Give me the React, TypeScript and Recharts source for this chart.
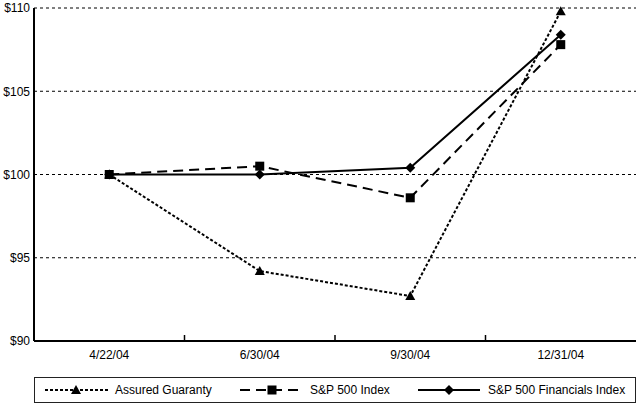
import React from "react"
import { LineChart, Line, XAxis, YAxis, CartesianGrid } from "recharts"

const dates = ["4/22/04", "6/30/04", "9/30/04", "12/31/04"]
const assuredGuaranty = [100, 94.2, 92.7, 109.8]
const sp500 = [100, 100.5, 98.6, 107.8]
const spFinancials = [100, 100.0, 100.4, 108.4]
const yTicks = [90, 95, 100, 105, 110]
const seriesNames = ["Assured Guaranty", "S&P 500 Index", "S&P 500 Financials Index"]

const data = dates.map((date, i) => ({
  date,
  ag: assuredGuaranty[i],
  sp: sp500[i],
  fin: spFinancials[i]
}))

const W = 639
const H = 403
const LEFT = 34
const RIGHT = 3
const PLOT_W = W - LEFT - RIGHT
const HALF_BAND = PLOT_W / dates.length / 2
const FONT = "'Liberation Sans', Arial, Helvetica, sans-serif"

// marker shapes
const Triangle = ({ cx, cy }: any) => {
  if (cx == null || cy == null) return null
  return <path d={`M${cx},${cy - 5}L${cx + 5},${cy + 4}L${cx - 5},${cy + 4}Z`} fill="#000" />
}

const Square = ({ cx, cy }: any) => {
  if (cx == null || cy == null) return null
  return <rect x={cx - 4.5} y={cy - 4.5} width={9} height={9} fill="#000" />
}

const Diamond = ({ cx, cy }: any) => {
  if (cx == null || cy == null) return null
  return <path d={`M${cx},${cy - 5}L${cx + 5},${cy}L${cx},${cy + 5}L${cx - 5},${cy}Z`} fill="#000" />
}

// x tick: label at category center, small tick mark at band boundary
const XTick = ({ x, y, payload, index }: any) => (
  <g>
    <text x={x} y={y + 18} textAnchor="middle" fill="#000" fontSize={12} fontFamily={FONT}>
      {payload.value}
    </text>
    {index < dates.length - 1 && (
      <line x1={x + HALF_BAND} x2={x + HALF_BAND} y1={y} y2={y - 6} stroke="#000" strokeWidth={1.5} />
    )}
  </g>
)

const LegendBox = () => (
  <svg
    width={PLOT_W}
    height={26}
    style={{ position: "absolute", left: LEFT, top: 377, overflow: "visible" }}
  >
    <rect x={0.5} y={0.5} width={PLOT_W - 1} height={25} fill="none" stroke="#222" strokeWidth={1} />
    <g fontFamily={FONT} fontSize={12} fill="#000">
      <line x1={11} x2={74} y1={13} y2={13} stroke="#000" strokeWidth={2} strokeDasharray="3 2" />
      <Triangle cx={42} cy={13} />
      <text x={81} y={17}>{seriesNames[0]}</text>

      <line x1={206} x2={269} y1={13} y2={13} stroke="#000" strokeWidth={2} strokeDasharray="10 6" />
      <Square cx={238} cy={13} />
      <text x={276} y={17}>{seriesNames[1]}</text>

      <line x1={384} x2={446} y1={13} y2={13} stroke="#000" strokeWidth={2} />
      <Diamond cx={415} cy={13} />
      <text x={454} y={17}>{seriesNames[2]}</text>
    </g>
  </svg>
)

export default function App() {
  return (
    <div style={{ position: "absolute", left: 0, top: 0, width: W, height: H, background: "#fff" }}>
      <LineChart width={W} height={H} data={data} margin={{ top: 8, right: RIGHT, bottom: 32, left: 0 }}>
        <CartesianGrid vertical={false} stroke="#000" strokeDasharray="3 3" strokeWidth={1} />
        <XAxis
          dataKey="date"
          height={30}
          padding={{ left: HALF_BAND, right: HALF_BAND }}
          tickSize={0}
          tickMargin={0}
          tickLine={false}
          axisLine={{ stroke: "#000", strokeWidth: 2 }}
          tick={<XTick />}
          interval={0}
        />
        <XAxis
          xAxisId="top"
          dataKey="date"
          orientation="top"
          height={0}
          padding={{ left: HALF_BAND, right: HALF_BAND }}
          tick={false}
          tickLine={false}
          axisLine={{ stroke: "#000", strokeWidth: 2 }}
        />
        <YAxis
          domain={[90, 110]}
          ticks={yTicks}
          width={LEFT}
          tickSize={0}
          tickMargin={4}
          tickLine={false}
          axisLine={{ stroke: "#000", strokeWidth: 2 }}
          tickFormatter={(v: number) => `$${v}`}
          tick={{ fill: "#000", fontSize: 12, fontFamily: FONT }}
        />
        <YAxis
          yAxisId="right"
          orientation="right"
          domain={[90, 110]}
          width={0}
          tick={false}
          tickLine={false}
          axisLine={{ stroke: "#000", strokeWidth: 2 }}
        />
        <Line
          dataKey="ag"
          name={seriesNames[0]}
          type="linear"
          stroke="#000"
          strokeWidth={2}
          strokeDasharray="3 2"
          dot={<Triangle />}
          activeDot={false}
          isAnimationActive={false}
        />
        <Line
          dataKey="sp"
          name={seriesNames[1]}
          type="linear"
          stroke="#000"
          strokeWidth={2}
          strokeDasharray="10 6"
          dot={<Square />}
          activeDot={false}
          isAnimationActive={false}
        />
        <Line
          dataKey="fin"
          name={seriesNames[2]}
          type="linear"
          stroke="#000"
          strokeWidth={2}
          dot={<Diamond />}
          activeDot={false}
          isAnimationActive={false}
        />
      </LineChart>
      <LegendBox />
    </div>
  )
}
